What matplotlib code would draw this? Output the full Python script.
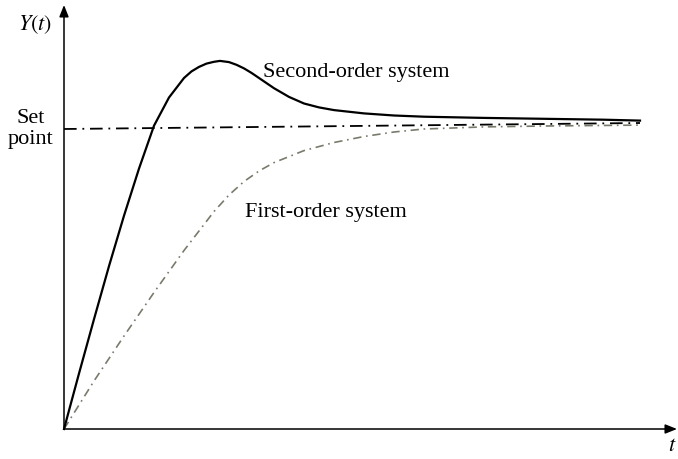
import matplotlib
matplotlib.use("Agg")
import matplotlib.pyplot as plt

# step responses (t, Y), set point = 1
t_second = [0, 0.25, 0.5, 0.75, 1.0, 1.25, 1.5, 1.75, 2.0, 2.125, 2.25, 2.375,
            2.5, 2.6, 2.75, 2.875, 3.0, 3.125, 3.25, 3.5, 3.75, 4.0, 4.25,
            4.5, 5.0, 5.5, 6.0, 7.0, 8.0, 9.0, 9.6]
y_second = [0, 0.185, 0.366, 0.543, 0.711, 0.868, 1.011, 1.105, 1.17, 1.192,
            1.207, 1.218, 1.224, 1.227, 1.223, 1.214, 1.202, 1.187, 1.17,
            1.136, 1.107, 1.085, 1.072, 1.063, 1.052, 1.045, 1.041, 1.037,
            1.034, 1.031, 1.028]

t_first = [0, 0.5, 1.0, 1.5, 2.0, 2.5, 2.75, 3.0, 3.25, 3.5, 4.0, 4.5, 5.0,
           5.5, 6.0, 7.0, 8.0, 9.6]
y_first = [0, 0.16, 0.31, 0.455, 0.595, 0.725, 0.78, 0.825, 0.86, 0.888,
           0.928, 0.955, 0.975, 0.99, 1.0, 1.007, 1.01, 1.013]

t_set = [0, 9.6]
y_set = [1.0, 1.02]

plt.rcParams['font.family'] = ['Liberation Serif', 'DejaVu Serif']
plt.rcParams['mathtext.fontset'] = 'stix'

fig = plt.figure(figsize=(6.78, 4.59), dpi=100)
ax = fig.add_axes([64/678, 30/459, 613/678, 424/459])
ax.set_xlim(0, 613/60)
ax.set_ylim(0, 424/300)
for s in ax.spines.values():
    s.set_visible(False)
ax.set_xticks([])
ax.set_yticks([])

# axes with arrow heads
arrow = dict(arrowstyle='-|>,head_length=0.5,head_width=0.2', color='k', lw=1.1,
             mutation_scale=14, shrinkA=0, shrinkB=0)
ax.annotate('', xy=(1, 0), xytext=(0, 0), xycoords='axes fraction', arrowprops=arrow)
ax.annotate('', xy=(0, 1), xytext=(0, 0), xycoords='axes fraction', arrowprops=arrow)

ax.plot(t_set, y_set, color='k', lw=1.3, dashes=(7, 3.2, 1, 3.2), clip_on=False)
ax.plot(t_first, y_first, color='#7a7a6c', lw=1.2, dashes=(5, 2.8, 1, 2.8), clip_on=False)
ax.plot(t_second, y_second, color='k', lw=1.6, clip_on=False)

fs = 16
ax.text(-0.55, 1.0, 'Set\npoint', ha='center', va='center', fontsize=fs,
        linespacing=1.1, clip_on=False)
ax.text(-0.48, 1.347, '$Y(t)$', ha='center', va='center', fontsize=fs, clip_on=False)
ax.text(10.13, -0.057, '$t$', ha='center', va='center', fontsize=fs, clip_on=False)
ax.text(3.32, 1.19, 'Second-order system', ha='left', va='center', fontsize=fs)
ax.text(3.02, 0.723, 'First-order system', ha='left', va='center', fontsize=fs)

fig.savefig('out.png', dpi=100)
